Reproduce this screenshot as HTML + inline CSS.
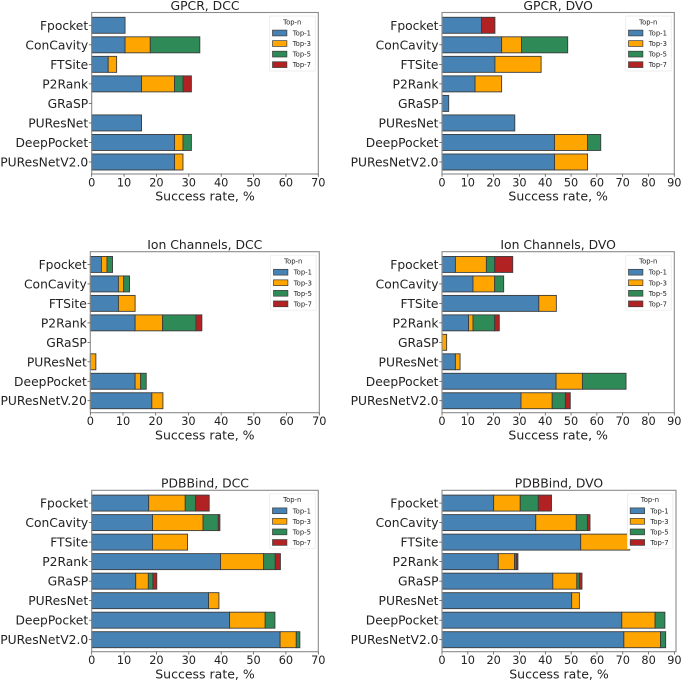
<!DOCTYPE html>
<html lang="en">
<head>
<meta charset="utf-8">
<title>Success rate charts</title>
<style>
html,body{margin:0;padding:0;background:#fff;width:681px;height:680px;overflow:hidden}
svg{display:block}
text{font-family:"DejaVu Sans","Liberation Sans",sans-serif;fill:#222}
</style>
</head>
<body>
<svg id="figure" xmlns="http://www.w3.org/2000/svg" width="681" height="680" viewBox="0 0 681 680"></svg>
<script>
const categories = ['Fpocket','ConCavity','FTSite','P2Rank','GRaSP','PUResNet','DeepPocket','PUResNetV2.0'];
const categoriesIonDcc = ['Fpocket','ConCavity','FTSite','P2Rank','GRaSP','PUResNet','DeepPocket','PUResNetV.20'];
const seriesNames = ['Top-1','Top-3','Top-5','Top-7'];
const ticksDcc = [0,10,20,30,40,50,60,70];
const ticksDvo = [0,10,20,30,40,50,60,70,80,90];

const gpcrDccTop1 = [10.3,10.3,5.1,15.4,0,15.4,25.6,25.6];
const gpcrDccTop3 = [0,7.8,2.6,10.2,0,0,2.6,2.6];
const gpcrDccTop5 = [0,15.3,0,2.6,0,0,2.6,0];
const gpcrDccTop7 = [0,0,0,2.6,0,0,0,0];

const gpcrDvoTop1 = [15.3,23.1,20.5,12.8,2.6,28.2,43.6,43.6];
const gpcrDvoTop3 = [0,7.7,17.9,10.3,0,0,12.8,12.8];
const gpcrDvoTop5 = [0,17.9,0,0,0,0,5.1,0];
const gpcrDvoTop7 = [5.2,0,0,0,0,0,0,0];

const ionDccTop1 = [3.4,8.6,8.6,13.7,0,0,13.7,18.8];
const ionDccTop3 = [1.7,1.6,5.1,8.4,0,1.7,1.7,3.4];
const ionDccTop5 = [1.7,1.8,0,10.2,0,0,1.7,0];
const ionDccTop7 = [0,0,0,1.8,0,0,0,0];

const ionDvoTop1 = [5.2,12.0,37.5,10.3,0,5.2,44.2,30.6];
const ionDvoTop3 = [12.0,8.4,6.8,1.7,1.8,1.8,10.2,12.1];
const ionDvoTop5 = [3.2,3.5,0,8.4,0,0,16.9,5.1];
const ionDvoTop7 = [7.0,0,0,1.8,0,0,0,1.9];

const pdbDccTop1 = [17.6,18.8,18.8,39.8,13.6,36.1,42.6,58.2];
const pdbDccTop3 = [11.3,15.6,10.8,13.3,3.9,3.2,11.0,5.0];
const pdbDccTop5 = [3.2,4.7,0,3.6,1.4,0,3.0,1.1];
const pdbDccTop7 = [4.2,0.5,0,1.6,1.2,0,0,0];

const pdbDvoTop1 = [20.0,36.3,53.7,21.8,42.9,50.2,69.6,70.4];
const pdbDvoTop3 = [10.3,15.7,19.0,6.3,9.3,3.0,12.9,14.2];
const pdbDvoTop5 = [7.0,4.3,0,0.7,1.0,0,3.8,2.0];
const pdbDvoTop7 = [5.1,1.0,0,0.6,1.0,0,0,0];

const colors = ['#4682b4','#ffa500','#2e8b57','#b22222'];
const xLabelText = 'Success rate, %';

const panels = [
  {id:'gpcr-dcc',title:'GPCR, DCC',labels:categories,series:[gpcrDccTop1,gpcrDccTop3,gpcrDccTop5,gpcrDccTop7],ticks:ticksDcc,xMax:70,left:91.7,right:318.3,top:12.5,bottom:174},
  {id:'gpcr-dvo',title:'GPCR, DVO',labels:categories,series:[gpcrDvoTop1,gpcrDvoTop3,gpcrDvoTop5,gpcrDvoTop7],ticks:ticksDvo,xMax:90,left:442,right:674.3,top:12.5,bottom:174},
  {id:'ion-dcc',title:'Ion Channels, DCC',labels:categoriesIonDcc,series:[ionDccTop1,ionDccTop3,ionDccTop5,ionDccTop7],ticks:ticksDcc,xMax:70,left:90.3,right:319.3,top:251.7,bottom:412.7},
  {id:'ion-dvo',title:'Ion Channels, DVO',labels:categories,series:[ionDvoTop1,ionDvoTop3,ionDvoTop5,ionDvoTop7],ticks:ticksDvo,xMax:90,left:442,right:674.3,top:251.7,bottom:412.7},
  {id:'pdb-dcc',title:'PDBBind, DCC',labels:categories,series:[pdbDccTop1,pdbDccTop3,pdbDccTop5,pdbDccTop7],ticks:ticksDcc,xMax:70,left:91.7,right:318.3,top:490.3,bottom:651.7},
  {id:'pdb-dvo',title:'PDBBind, DVO',labels:categories,series:[pdbDvoTop1,pdbDvoTop3,pdbDvoTop5,pdbDvoTop7],ticks:ticksDvo,xMax:90.6,left:442,right:676,top:490.3,bottom:651.7}
];

const svgNS = 'http://www.w3.org/2000/svg';
const fig = document.getElementById('figure');

function make(tag, parent, attrs, txt) {
  const el = document.createElementNS(svgNS, tag);
  for (const k in attrs) el.setAttribute(k, attrs[k]);
  if (txt !== undefined) el.textContent = txt;
  parent.appendChild(el);
  return el;
}

function drawPanel(p) {
  const g = make('g', fig, {});
  
  

  const xScale = v => p.left + (v / p.xMax) * (p.right - p.left);
  const unit = (p.bottom - p.top) / 8.27;
  const yScale = i => p.top + (i + 0.655) * unit;
  const barH = 0.82 * unit;

  // stacked bars
  p.labels.forEach((label, i) => {
    let cum = 0;
    p.series.forEach((vals, s) => {
      const v = vals[i];
      if (v > 0) {
        const bar = make('rect', g, {
          x: xScale(cum), y: yScale(i) - barH / 2,
          width: xScale(cum + v) - xScale(cum), height: barH,
          fill: colors[s], stroke: '#3c3c3c', 'stroke-width': 0.9
        });
        
        
      }
      cum += v;
    });
  });

  // spines
  const frame = make('rect', g, {x:p.left, y:p.top, width:p.right - p.left, height:p.bottom - p.top, fill:'none', stroke:'#8a8a8a', 'stroke-width':1.1});
  
  

  // x ticks
  p.ticks.forEach(t => {
    const x = xScale(t);
    const tick = make('line', g, {x1:x, x2:x, y1:p.bottom, y2:p.bottom + 2.8, stroke:'#444', 'stroke-width':0.7});
    
    
    const lab = make('text', g, {x:x, y:p.bottom + 12.3, 'text-anchor':'middle', 'font-size':11.3}, String(t));
    
    
  });

  // y ticks
  p.labels.forEach((label, i) => {
    const y = yScale(i);
    const tick = make('line', g, {x1:p.left - 2.8, x2:p.left, y1:y, y2:y, stroke:'#444', 'stroke-width':0.7});
    
    
    const lab = make('text', g, {x:p.left - 3.5, y:y + 4.5, 'text-anchor':'end', 'font-size':12.3}, label);
    
    
  });

  // titles
  const cx = (p.left + p.right) / 2;
  const title = make('text', g, {x:cx, y:p.top - 2.6, 'text-anchor':'middle', 'font-size':12.4}, p.title);
  
  
  const xl = make('text', g, {x:cx, y:p.bottom + 26.6, 'text-anchor':'middle', 'font-size':12.5}, xLabelText);
  
  

  // legend
  const lw = 45.5, lh = 55;
  const lx = p.right - 3.1 - lw, ly = p.top + 3.5;
  const legend = make('g', g, {});
  
  
  const box = make('rect', legend, {x:lx, y:ly, width:lw, height:lh, rx:1, fill:'#fff', stroke:'#e8e8e8', 'stroke-width':0.7});
  
  
  const lt = make('text', legend, {x:lx + 22.5, y:ly + 8.3, 'text-anchor':'middle', 'font-size':6.8}, 'Top-n');
  
  
  seriesNames.forEach((name, s) => {
    const ry = ly + 17 + s * 10.55;
    const swatch = make('rect', legend, {x:lx + 2.8, y:ry - 2.9, width:14.4, height:5.8, fill:colors[s], stroke:'#3c3c3c', 'stroke-width':0.7});
    
    
    const t = make('text', legend, {x:lx + 23, y:ry + 2.5, 'font-size':6.8}, name);
    
    
  });
}

panels.forEach(drawPanel);
</script>
</body>
</html>
